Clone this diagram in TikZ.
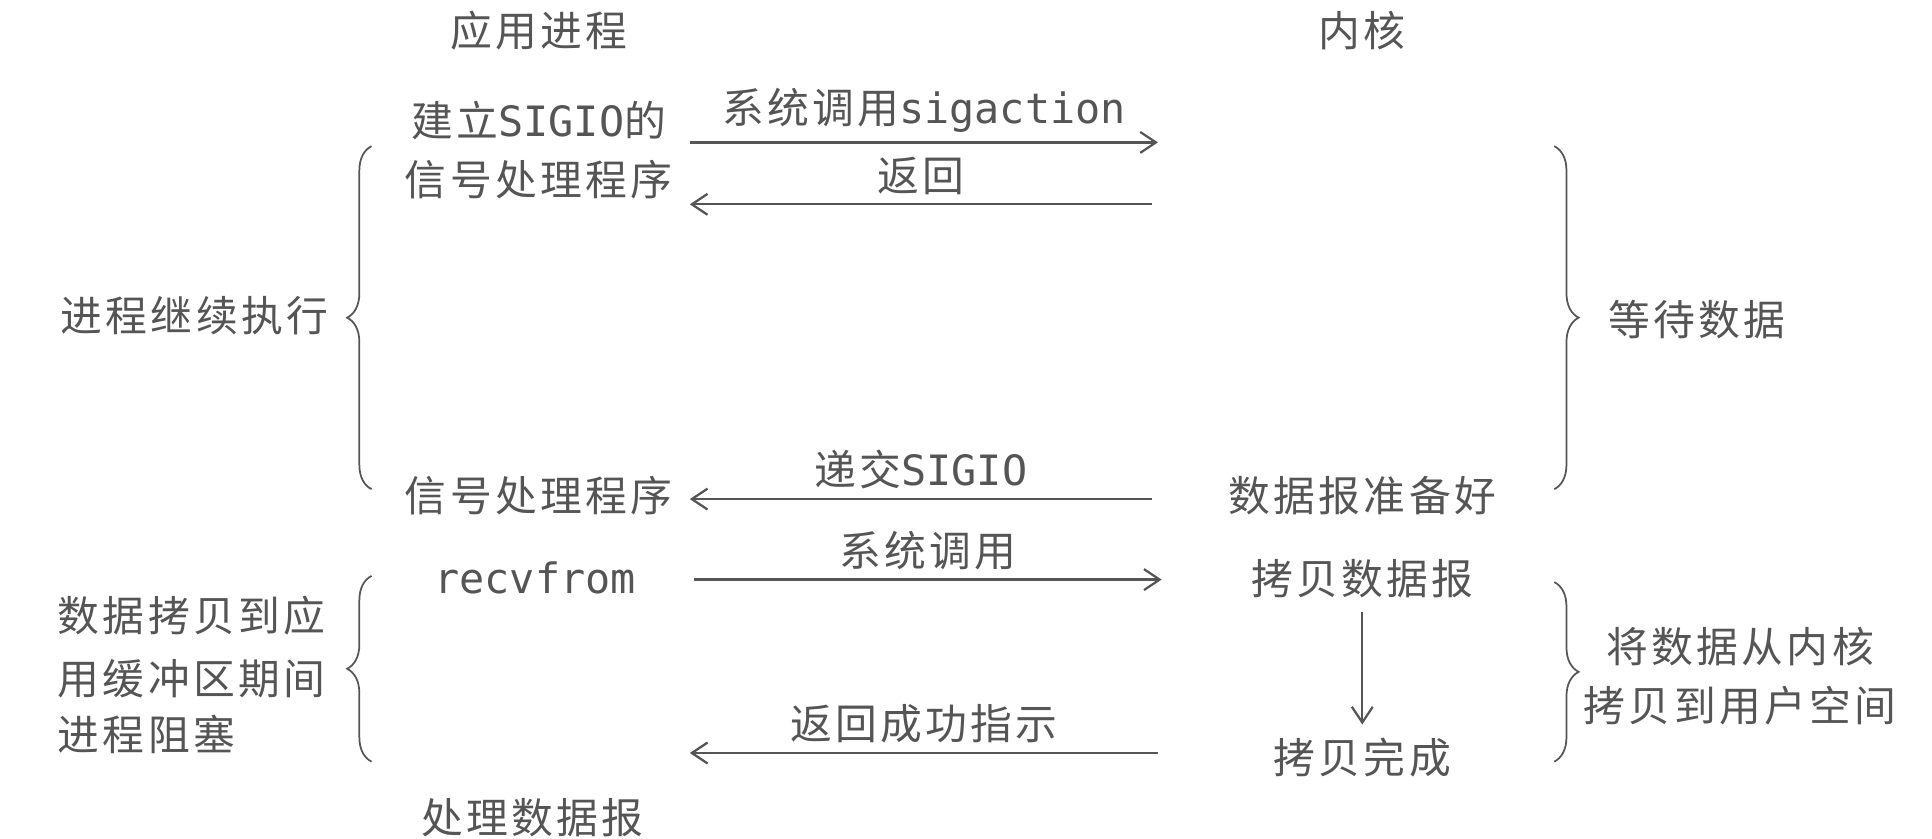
\documentclass[tikz,border=0pt]{standalone}
\usepackage{fontspec}
\newfontfamily\cjk[LetterSpace=8]{Noto Sans CJK SC}
\newfontfamily\monof{DejaVu Sans Mono}
\usetikzlibrary{decorations.pathreplacing,arrows.meta}
\definecolor{ink}{HTML}{555555}
\begin{document}
\begin{tikzpicture}[x=0.025cm,y=-0.025cm,
  lbl/.style={font=\cjk\fontsize{24}{28}\selectfont,text=ink,inner sep=1pt},
  conn/.style={draw=ink,line width=1.3pt,-{Straight Barb[length=9pt,width=12pt]}},
  brc/.style={draw=ink,line width=1pt,decorate,decoration={brace,amplitude=14pt}}]
\useasboundingbox (0,0) rectangle (1560,677);
\node[lbl] (h1) at (435,25) {应用进程};
\node[lbl] (h2) at (1100,25) {内核};
\node[lbl] (a1) at (435,97) {建立{\monof SIGIO}的};
\node[lbl] (a2) at (435,145) {信号处理程序};
\coordinate (s1) at (557,115); \coordinate (e1) at (935,115);
\draw[conn] (s1) -- node[lbl,above=4pt]{系统调用{\monof sigaction}} (e1);
\coordinate (s2) at (930,165); \coordinate (e2) at (557,165);
\draw[conn] (s2) -- node[lbl,above=4pt]{返回} (e2);
\coordinate (lb1a) at (300,395); \coordinate (lb1b) at (300,118);
\draw[brc] (lb1a) -- (lb1b);
\node[lbl] (t1) at (157,255) {进程继续执行};
\coordinate (rb1a) at (1255,118); \coordinate (rb1b) at (1255,395);
\draw[brc] (rb1a) -- (rb1b);
\node[lbl] (t2) at (1370,258) {等待数据};
\node[lbl] (b1) at (435,400) {信号处理程序};
\node[lbl] (k1) at (1100,400) {数据报准备好};
\coordinate (s3) at (930,403); \coordinate (e3) at (557,403);
\draw[conn] (s3) -- node[lbl,above=4pt]{递交{\monof SIGIO}} (e3);
\node[lbl] (c1) at (432,467) {\monof recvfrom};
\node[lbl] (k2) at (1100,467) {拷贝数据报};
\coordinate (s4) at (560,468); \coordinate (e4) at (938,468);
\draw[conn] (s4) -- node[lbl,above=4pt]{系统调用} (e4);
\node[lbl] (k3) at (1100,612) {拷贝完成};
\draw[conn] (k2.south) ++(0,10) coordinate (d1) (d1) -- (1100,585);
\coordinate (s5) at (935,608); \coordinate (e5) at (557,608);
\draw[conn] (s5) -- node[lbl,above=4pt]{返回成功指示} (e5);
\coordinate (lb2a) at (300,615); \coordinate (lb2b) at (300,465);
\draw[brc] (lb2a) -- (lb2b);
\node[lbl,anchor=west] (t3) at (45,497) {数据拷贝到应};
\node[lbl,anchor=west] (t4) at (45,548) {用缓冲区期间};
\node[lbl,anchor=west] (t5) at (45,593) {进程阻塞};
\coordinate (rb2a) at (1255,470); \coordinate (rb2b) at (1255,615);
\draw[brc] (rb2a) -- (rb2b);
\node[lbl] (t6) at (1405,522) {将数据从内核};
\node[lbl] (t7) at (1405,570) {拷贝到用户空间};
\node[lbl] (f1) at (430,660) {处理数据报};
\end{tikzpicture}
\end{document}
